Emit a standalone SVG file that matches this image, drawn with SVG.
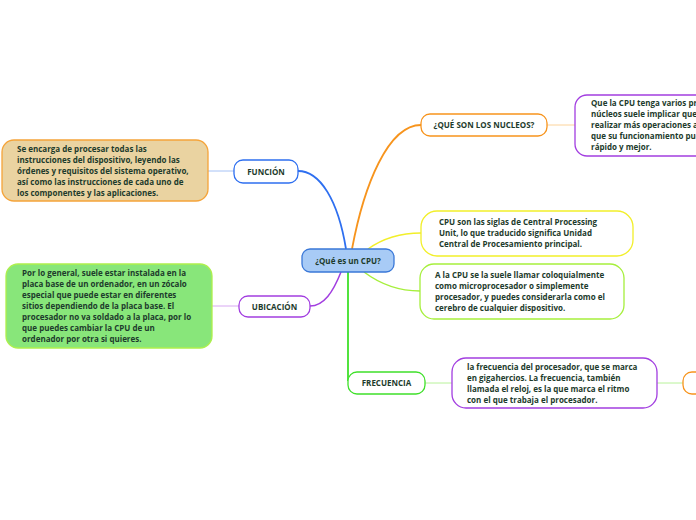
<svg xmlns="http://www.w3.org/2000/svg" width="696" height="520" viewBox="0 0 696 520">
<style>
text{font-family:"Open Sans","Noto Sans","DejaVu Sans",sans-serif;font-size:8px;font-weight:700;fill:#1d3b2c}
.c{text-anchor:middle}
.n{fill:#fff;stroke-width:1.3}
path{fill:none}
</style>
<rect width="696" height="520" fill="#fff"/>
<g id="connectors">
<path d="M346,249 C338,200 320,171 298,171" stroke="#2e6ff0" stroke-width="1.8"/>
<path d="M352,249 C364,185 388,125 421,125" stroke="#f7941d" stroke-width="1.8"/>
<path d="M368,249 C382,239 400,233 421,233" stroke="#f2ef2a" stroke-width="1.5"/>
<path d="M364,272 C380,284 400,291 420,291" stroke="#a6ef3c" stroke-width="1.5"/>
<path d="M341,272 C333,292 324,306 310,306" stroke="#a23ee0" stroke-width="1.5"/>
<path d="M348,272 L348,381" stroke="#3fe02a" stroke-width="1.8"/>
<path d="M234,171 L208,171" stroke="#a6c2f5" stroke-width="1"/>
<path d="M239,306 L212,306" stroke="#d7a8f2" stroke-width="1"/>
<path d="M547,125 L575,125" stroke="#fcd39a" stroke-width="1"/>
<path d="M425,383 L452,383" stroke="#b8f29a" stroke-width="1"/>
<path d="M657,383 L683,383" stroke="#b8f29a" stroke-width="1"/>
</g>
<g id="central">
<rect x="302" y="249" width="92" height="23" rx="8" fill="#a8cbf6" stroke="#3a78d8" stroke-width="1.3"/>
<text class="c" x="348" y="264" font-size="8.5">¿Qué es un CPU?</text>
</g>
<g id="funcion">
<rect class="n" x="234" y="160" width="64" height="23" rx="9" stroke="#2e6ff0"/>
<text class="c" x="266" y="175">FUNCIÓN</text>
</g>
<g id="funcion-desc">
<rect x="2" y="140" width="206" height="61" rx="12" fill="#ead3a1" stroke="#f5a43a" stroke-width="1.3"/>
<text x="17" y="152">Se encarga de procesar todas las</text>
<text x="17" y="163">instrucciones del dispositivo, leyendo las</text>
<text x="17" y="174">órdenes y requisitos del sistema operativo,</text>
<text x="17" y="185">así como las instrucciones de cada uno de</text>
<text x="17" y="196">los componentes y las aplicaciones.</text>
</g>
<g id="ubicacion">
<rect class="n" x="239" y="296" width="71" height="21" rx="9" stroke="#a23ee0"/>
<text class="c" x="274.5" y="309.5">UBICACIÓN</text>
</g>
<g id="ubicacion-desc">
<rect x="6" y="264" width="206" height="84" rx="12" fill="#88e67a" stroke="#aef04c" stroke-width="1.3"/>
<text x="22" y="276">Por lo general, suele estar instalada en la</text>
<text x="22" y="287">placa base de un ordenador, en un zócalo</text>
<text x="22" y="298">especial que puede estar en diferentes</text>
<text x="22" y="309">sitios dependiendo de la placa base. El</text>
<text x="22" y="320">procesador no va soldado a la placa, por lo</text>
<text x="22" y="331">que puedes cambiar la CPU de un</text>
<text x="22" y="342">ordenador por otra si quieres.</text>
</g>
<g id="nucleos">
<rect class="n" x="421" y="114" width="126" height="22" rx="9" stroke="#f7941d"/>
<text class="c" x="484" y="128">¿QUÉ SON LOS NUCLEOS?</text>
</g>
<g id="nucleos-desc">
<rect class="n" x="575" y="95" width="135" height="61" rx="12" stroke="#a23ee0"/>
<text x="591" y="106">Que la CPU tenga varios procesadores o</text>
<text x="591" y="117">núcleos suele implicar que pueda</text>
<text x="591" y="128">realizar más operaciones a la vez, y</text>
<text x="591" y="139">que su funcionamiento pueda ser más</text>
<text x="591" y="150">rápido y mejor.</text>
</g>
<g id="siglas">
<rect class="n" x="421" y="211" width="212" height="45" rx="16" stroke="#f2ef2a"/>
<text x="439" y="225">CPU son las siglas de Central Processing</text>
<text x="439" y="236">Unit, lo que traducido significa Unidad</text>
<text x="439" y="247">Central de Procesamiento principal.</text>
</g>
<g id="micro">
<rect class="n" x="420" y="264" width="204" height="55" rx="14" stroke="#a6ef3c"/>
<text x="435" y="278">A la CPU se la suele llamar coloquialmente</text>
<text x="435" y="289">como microprocesador o simplemente</text>
<text x="435" y="300">procesador, y puedes considerarla como el</text>
<text x="435" y="311">cerebro de cualquier dispositivo.</text>
</g>
<g id="frecuencia">
<rect class="n" x="348" y="372" width="77" height="22" rx="9" stroke="#3fe02a"/>
<text class="c" x="386.5" y="386">FRECUENCIA</text>
</g>
<g id="frecuencia-desc">
<rect class="n" x="452" y="358" width="205" height="50" rx="14" stroke="#a23ee0"/>
<text x="467" y="370">la frecuencia del procesador, que se marca</text>
<text x="467" y="381">en gigahercios. La frecuencia, también</text>
<text x="467" y="392">llamada el reloj, es la que marca el ritmo</text>
<text x="467" y="403">con el que trabaja el procesador.</text>
</g>
<g id="frecuencia-extra">
<rect class="n" x="683" y="372" width="60" height="22" rx="9" stroke="#f7941d"/>
</g>
</svg>
